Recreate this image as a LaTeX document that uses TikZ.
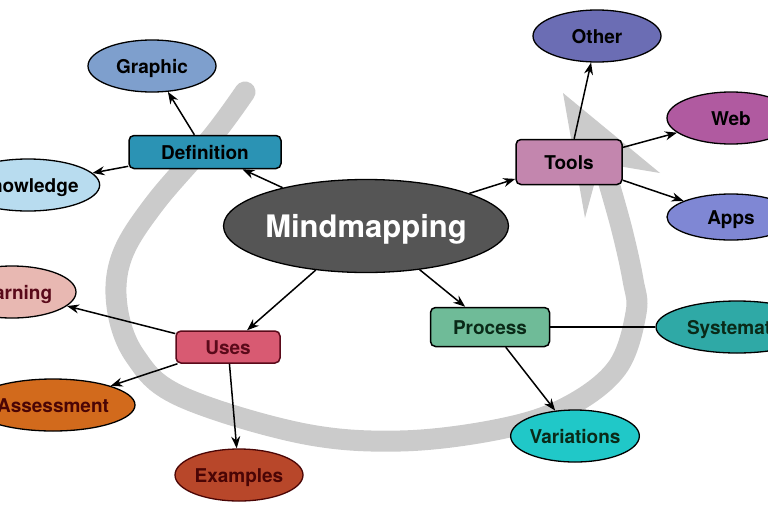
\documentclass[tikz,border=0pt]{standalone}
\usepackage{fontspec}
\setmainfont{TeX Gyre Heros}
\usetikzlibrary{arrows.meta,shapes.geometric}

\definecolor{bandgray}{HTML}{CBCBCB}
\definecolor{hubgray}{HTML}{555555}
\definecolor{defblue}{HTML}{2B93B4}
\definecolor{graphicblue}{HTML}{7E9FCD}
\definecolor{knowblue}{HTML}{B8DCEF}
\definecolor{toolpink}{HTML}{C386AE}
\definecolor{otherblue}{HTML}{6B6DB4}
\definecolor{webpurple}{HTML}{B05AA0}
\definecolor{appsblue}{HTML}{7F87D4}
\definecolor{usesred}{HTML}{D85A72}
\definecolor{maroon}{HTML}{5A0A1A}
\definecolor{learnpink}{HTML}{E8B8B2}
\definecolor{assessorange}{HTML}{D26A1C}
\definecolor{examplered}{HTML}{B8472A}
\definecolor{darkred}{HTML}{4A0505}
\definecolor{processgreen}{HTML}{6FBB98}
\definecolor{darkgreen}{HTML}{0A2A18}
\definecolor{systeal}{HTML}{2FA9A6}
\definecolor{varcyan}{HTML}{20C8C8}

\tikzset{
  hub/.style={ellipse, draw, line width=1.3pt, fill=hubgray, text=white,
    minimum width=284pt, minimum height=93pt, inner sep=0pt,
    text height=22pt, text depth=-1pt,
    font=\fontsize{31}{37}\selectfont\bfseries},
  branch/.style={rectangle, rounded corners=5pt, draw, line width=1.5pt,
    inner sep=0pt, text height=14pt, text depth=-2pt,
    font=\fontsize{19}{22}\selectfont\bfseries},
  leaf/.style={ellipse, draw, line width=1.3pt, minimum width=128pt,
    minimum height=52pt, inner sep=0pt, text height=14pt, text depth=-2pt,
    font=\fontsize{19}{22}\selectfont\bfseries},
  link/.style={line width=1.5pt, -{Stealth[length=12pt,width=9pt]}}
}

\begin{document}
\begin{tikzpicture}[x=1pt,y=-1pt]
  \useasboundingbox (0,0) rectangle (768,512);

  % Grey loop behind the map
  \draw[bandgray, line width=21pt, line cap=round]
    plot[smooth, tension=0.6] coordinates {(245,92) (212,137) (155,203) (122,256)
      (117,306) (135,356) (180,396) (300,433) (400,441) (500,429) (567,407)
      (617,368) (636,313) (633,280) (622,230) (608,180)};
  \fill[bandgray] (563,93) -- (660,173) -- (600,163) -- (585,218) -- cycle;

  % Centre
  \node[hub] (mind) at (366,226) {Mindmapping};

  % Branches
  \node[branch, fill=defblue, minimum width=152pt, minimum height=33pt] (definition) at (205,152) {Definition};
  \node[branch, fill=toolpink, minimum width=106pt, minimum height=45pt] (tools) at (569,162) {Tools};
  \node[branch, fill=usesred, draw=maroon, text=maroon, minimum width=104pt, minimum height=32pt] (uses) at (228,347) {Uses};
  \node[branch, fill=processgreen, text=darkgreen, minimum width=119pt, minimum height=39pt] (process) at (490,327) {Process};

  % Leaves
  \node[leaf, fill=graphicblue] (graphic) at (152,66) {Graphic};
  \node[leaf, fill=knowblue, minimum width=142pt] (knowledge) at (28,185) {Knowledge};
  \node[leaf, fill=otherblue] (other) at (597,36) {Other};
  \node[leaf, fill=webpurple] (web) at (731,118) {Web};
  \node[leaf, fill=appsblue, minimum height=46pt] (apps) at (731,217) {Apps};
  \node[leaf, fill=learnpink, text=maroon] (learning) at (12,292) {Learning};
  \node[leaf, fill=assessorange, text=darkred, minimum width=164pt] (assessment) at (53,405) {Assessment};
  \node[leaf, fill=examplered, draw=darkred, text=darkred] (examples) at (239,475) {Examples};
  \node[leaf, fill=systeal, text=darkgreen, minimum width=162pt] (systematic) at (737,327) {Systematic};
  \node[leaf, fill=varcyan, text=darkgreen] (variations) at (575,436) {Variations};

  % Links
  \draw[link] (mind) -- (definition);
  \draw[link] (definition) -- (graphic);
  \draw[link] (definition) -- (knowledge);
  \draw[link] (mind) -- (tools);
  \draw[link] (tools) -- (other);
  \draw[link] (tools) -- (web);
  \draw[link] (tools) -- (apps);
  \draw[link] (mind) -- (uses);
  \draw[link] (uses) -- (learning);
  \draw[link] (uses) -- (assessment);
  \draw[link] (uses) -- (examples);
  \draw[link] (mind) -- (process);
  \draw[link] (process) -- (variations);
  \draw[line width=1.5pt] (process) -- (systematic);
\end{tikzpicture}
\end{document}
